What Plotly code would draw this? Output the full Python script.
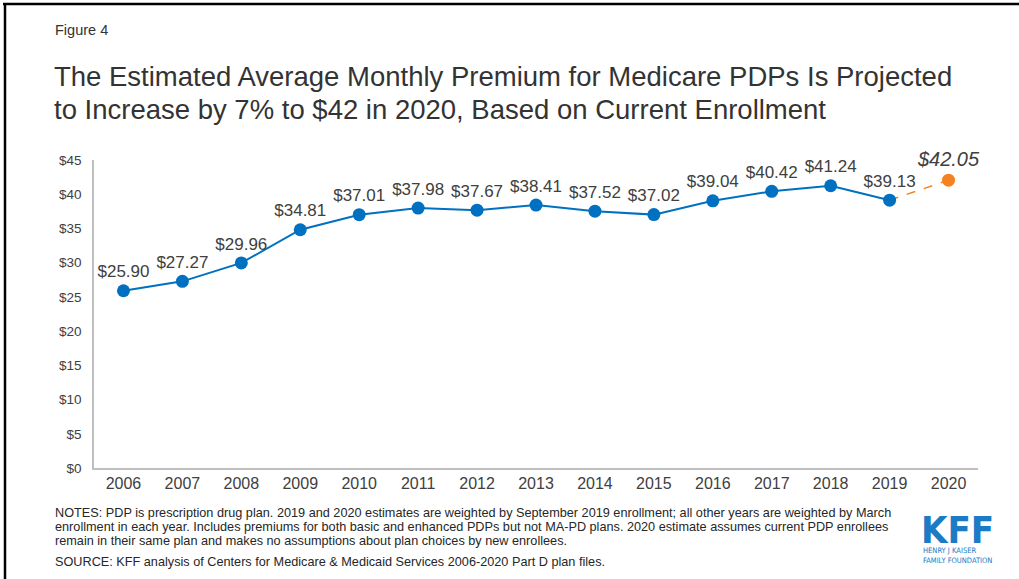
import plotly.graph_objects as go

years = [str(y) for y in range(2006, 2021)]
premiums = [25.90, 27.27, 29.96, 34.81, 37.01, 37.98, 37.67, 38.41,
            37.52, 37.02, 39.04, 40.42, 41.24, 39.13]
projected_years = ["2019", "2020"]
projected = [39.13, 42.05]
y_ticks = [0, 5, 10, 15, 20, 25, 30, 35, 40, 45]

title_lines = [
    "The Estimated Average Monthly Premium for Medicare PDPs Is Projected",
    "to Increase by 7% to $42 in 2020, Based on Current Enrollment",
]
note_lines = [
    "NOTES: PDP is prescription drug plan. 2019 and 2020 estimates are weighted by September 2019 enrollment; all other years are weighted by March",
    "enrollment in each year. Includes premiums for both basic and enhanced PDPs but not MA-PD plans. 2020 estimate assumes current PDP enrollees",
    "remain in their same plan and makes no assumptions about plan choices by new enrollees.",
]
source = "SOURCE: KFF analysis of Centers for Medicare & Medicaid Services 2006-2020 Part D plan files."

BLUE = "#0070C0"
ORANGE = "#F58220"
TEXT = "#404040"
FONT = "Liberation Sans, Arial, sans-serif"

# plot area in pixels: x 94..978, y 160..468
def px(x):
    return (x - 94) / 884

def py(y):
    return (468 - y) / 308

fig = go.Figure()

# projected segment (dashed)
fig.add_scatter(
    x=projected_years, y=projected, mode="lines",
    line=dict(color=ORANGE, width=1.5, dash="dash"),
    hoverinfo="skip",
)
fig.add_scatter(
    x=projected_years[1:], y=projected[1:], mode="markers+text",
    marker=dict(color=ORANGE, size=13),
    text=["<i>$%.2f</i>" % projected[1]],
    textposition="top center",
    textfont=dict(size=20, color=TEXT, family=FONT),
    cliponaxis=False,
)
fig.add_scatter(
    x=years[:len(premiums)], y=premiums, mode="lines+markers+text",
    line=dict(color=BLUE, width=2),
    marker=dict(color=BLUE, size=13),
    text=["$%.2f" % v for v in premiums],
    textposition="top center",
    textfont=dict(size=17, color=TEXT, family=FONT),
    cliponaxis=False,
)

fig.update_xaxes(
    type="category", categoryorder="array", categoryarray=years,
    range=[-0.5, len(years) - 0.5],
    showline=True, linecolor="#BFBFBF", linewidth=1.5,
    showgrid=False, ticks="", tickfont=dict(size=16, color=TEXT, family=FONT),
)
fig.update_yaxes(
    range=[0, 45], tickvals=y_ticks, ticktext=["$%d" % t for t in y_ticks],
    showline=True, linecolor="#BFBFBF", linewidth=1.5,
    showgrid=False, zeroline=False, ticks="", ticklabelstandoff=8,
    tickfont=dict(size=13.5, color=TEXT, family=FONT),
)

fig.add_annotation(
    text="Figure 4", xref="paper", yref="paper", x=px(53), y=py(30),
    xanchor="left", yanchor="middle", showarrow=False,
    font=dict(size=14.5, color="#333333", family=FONT),
)
for i, line in enumerate(title_lines):
    fig.add_annotation(
        text=line, xref="paper", yref="paper", x=px(52), y=py(76 + 33 * i),
        xanchor="left", yanchor="middle", showarrow=False,
        font=dict(size=27.5, color="#333333", family=FONT),
    )
for i, line in enumerate(note_lines):
    fig.add_annotation(
        text=line, xref="paper", yref="paper", x=px(53), y=py(513 + 14 * i),
        xanchor="left", yanchor="middle", showarrow=False,
        font=dict(size=12.7, color="#262626", family=FONT),
    )
fig.add_annotation(
    text=source, xref="paper", yref="paper", x=px(53), y=py(562),
    xanchor="left", yanchor="middle", showarrow=False,
    font=dict(size=12.7, color="#262626", family=FONT),
)
# KFF logo as text
fig.add_annotation(
    text="<b>KFF</b>", xref="paper", yref="paper", x=px(957), y=py(530),
    xanchor="center", yanchor="middle", showarrow=False,
    font=dict(size=38, color="#1B7BC4", family="DejaVu Sans Condensed, sans-serif"),
)
fig.add_annotation(
    text="HENRY J KAISER<br>FAMILY FOUNDATION", xref="paper", yref="paper",
    x=px(921), y=py(555), xanchor="left", yanchor="middle", align="left",
    showarrow=False,
    font=dict(size=7.5, color="#1B7BC4", family="DejaVu Sans Condensed, sans-serif"),
)

# slide border on top and left
fig.add_shape(type="line", xref="paper", yref="paper", x0=px(3), x1=px(1030),
              y0=py(4), y1=py(4), line=dict(color="black", width=2.5))
fig.add_shape(type="line", xref="paper", yref="paper", x0=px(5), x1=px(5),
              y0=py(3), y1=py(590), line=dict(color="black", width=2.5))

fig.update_layout(
    width=1019, height=579,
    margin=dict(l=94, r=41, t=160, b=111),
    paper_bgcolor="white", plot_bgcolor="white",
    showlegend=False,
    font=dict(family=FONT, color=TEXT),
)
fig.write_html("out.html", config={"displayModeBar": False},
               post_script="document.body.style.margin='0';")
